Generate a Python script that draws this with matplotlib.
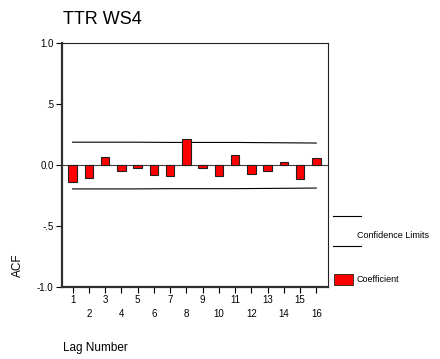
import matplotlib

matplotlib.use("Agg")

import matplotlib.pyplot as plt
from matplotlib.lines import Line2D
from matplotlib.patches import Rectangle

plt.rcParams["font.family"] = ["Liberation Sans", "DejaVu Sans"]

# autocorrelation coefficients per lag
lags = list(range(1, 17))
acf = [-0.139, -0.107, 0.063, -0.046, -0.027, -0.082, -0.093, 0.216,
       -0.021, -0.087, 0.085, -0.071, -0.049, 0.022, -0.112, 0.055]
upper_limit = [0.187, 0.187, 0.187, 0.187, 0.187, 0.186, 0.185, 0.185,
               0.185, 0.185, 0.185, 0.184, 0.183, 0.182, 0.181, 0.180]
lower_limit = [-0.196, -0.196, -0.196, -0.196, -0.196, -0.195, -0.194, -0.194,
               -0.194, -0.194, -0.194, -0.193, -0.192, -0.191, -0.190, -0.189]
y_ticks = [-1.0, -0.5, 0.0, 0.5, 1.0]
y_tick_labels = ["-1.0", "-.5", "0.0", ".5", "1.0"]

W, H = 440, 359
fig = plt.figure(figsize=(W / 100, H / 100), dpi=100)
ax = fig.add_axes([62 / W, 1 - 287 / H, 266 / W, 244 / H])

ax.bar(lags, acf, width=0.52, color="#ff0000", edgecolor="#202020",
       linewidth=0.8, zorder=3)
ax.plot(lags, upper_limit, color="black", linewidth=0.8, zorder=2)
ax.plot(lags, lower_limit, color="black", linewidth=0.8, zorder=2)
ax.axhline(0, color="#404040", linewidth=0.8, zorder=2)

ax.set_xlim(0.35, 16.72)
ax.set_ylim(-1.0, 1.0)
ax.set_yticks(y_ticks)
ax.set_yticklabels(y_tick_labels)

# odd lags on the first row, even lags on the second
ax.set_xticks(lags[0::2])
ax.set_xticklabels([str(v) for v in lags[0::2]])
ax.set_xticks(lags[1::2], minor=True)
ax.set_xticklabels([str(v) for v in lags[1::2]], minor=True)
ax.tick_params(axis="x", which="major", length=4, width=0.8, pad=2, labelsize=7)
ax.tick_params(axis="x", which="minor", length=4, width=0.8, pad=12, labelsize=7)
ax.tick_params(axis="y", length=4, width=0.8, pad=2, labelsize=7)

for side in ("left", "bottom"):
    ax.spines[side].set_linewidth(1.6)
    ax.spines[side].set_color("#303030")
for side in ("top", "right"):
    ax.spines[side].set_linewidth(0.8)
    ax.spines[side].set_color("#202020")

fig.text(63 / W, 1 - 20 / H, "TTR WS4", fontsize=13, va="center", ha="left")
fig.text(63 / W, 1 - 348 / H, "Lag Number", fontsize=8.5, va="center", ha="left")
fig.text(18 / W, 1 - 265 / H, "ACF", fontsize=8.5, rotation=90,
         va="center", ha="center")

# legend drawn in figure pixels
for y in (215.5, 245.5):
    fig.add_artist(Line2D([333 / W, 361 / W], [1 - y / H, 1 - y / H],
                          color="black", linewidth=0.8))
fig.text(357 / W, 1 - 235 / H, "Confidence Limits", fontsize=6.5,
         va="center", ha="left")
fig.add_artist(Rectangle((334 / W, 1 - 285 / H), 19 / W, 11 / H,
                         facecolor="#ff0000", edgecolor="#202020",
                         linewidth=0.6))
fig.text(356 / W, 1 - 280 / H, "Coefficient", fontsize=6.5,
         va="center", ha="left")

fig.savefig("out.png", dpi=100)
